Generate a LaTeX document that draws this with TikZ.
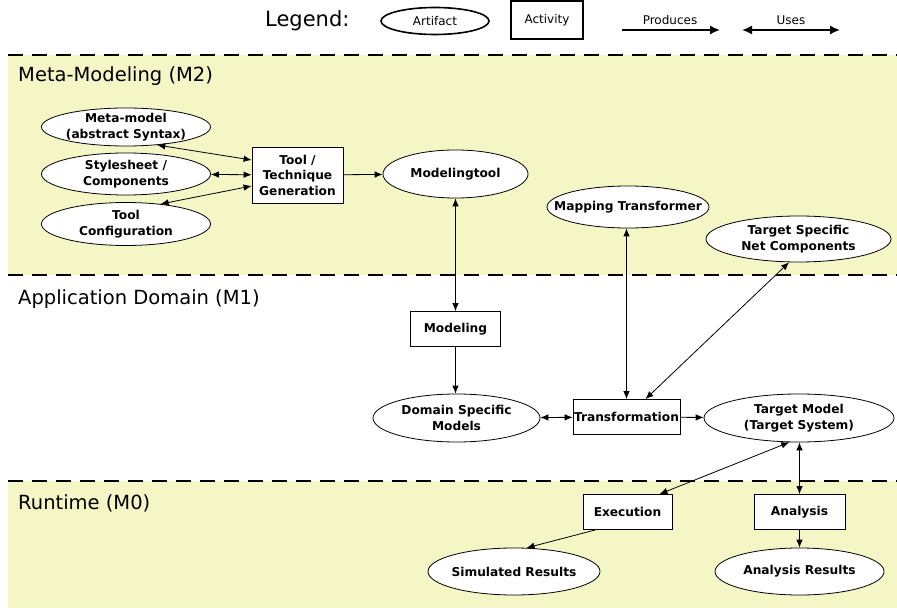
\documentclass[tikz,border=0pt]{standalone}
\usepackage{fontspec}
\setmainfont{DejaVu Sans}
\usetikzlibrary{shapes.geometric,arrows.meta}
\definecolor{bandyellow}{RGB}{245,246,198}

\begin{document}
\begin{tikzpicture}[x=1pt,y=-1pt,
  nodefont/.style={font=\bfseries\fontsize{12.2}{15.5}\selectfont},
  % negative inner sep: the ellipse size is set by the minimum sizes alone
  artifact/.style={ellipse,draw,fill=white,line width=0.8pt,inner xsep=-40pt,inner ysep=-10pt,align=center,nodefont},
  activity/.style={rectangle,draw,fill=white,line width=0.8pt,inner sep=0pt,align=center,nodefont},
  produces/.style={line width=0.8pt,-{Latex[length=8pt,width=6.5pt]}},
  uses/.style={line width=0.8pt,{Latex[length=8pt,width=6.5pt]}-{Latex[length=8pt,width=6.5pt]}},
  separator/.style={line width=2.6pt,dash pattern=on 15pt off 9pt},
  layerlabel/.style={anchor=west,inner sep=0pt,font=\fontsize{19.5}{22}\selectfont},
  legendtext/.style={inner sep=0pt,font=\fontsize{12}{14}\selectfont}]

\useasboundingbox (0,0) rectangle (897,612);
\fill[white] (0,0) rectangle (897,612);

% layer backgrounds
\fill[bandyellow] (8,55) rectangle (897,275);
\fill[bandyellow] (8,481) rectangle (897,608);
\draw[separator] (8,55) -- (897,55);
\draw[separator] (8,275) -- (897,275);
\draw[separator] (8,481) -- (897,481);

% layer labels
\node[layerlabel] (m2) at (18,76) {Meta-Modeling (M2)};
\node[layerlabel] (m1) at (18,299) {Application Domain (M1)};
\node[layerlabel] (m0) at (18,503) {Runtime (M0)};

% legend
\node[inner sep=0pt,anchor=west,font=\fontsize{21}{24}\selectfont] (legend) at (265,21) {Legend:};
\node[ellipse,draw,line width=1.6pt,minimum width=108pt,minimum height=27pt,inner sep=0pt,legendtext] (lgart) at (435,21) {Artifact};
\node[rectangle,draw,line width=1.3pt,minimum width=72pt,minimum height=38pt,inner sep=0pt,legendtext] (lgact) at (547,20) {Activity};
\coordinate (p1) at (622,30);
\coordinate (p2) at (720,30);
\draw[line width=1.6pt,-{Latex[length=10pt,width=9pt]}] (p1) -- (p2);
\node[legendtext] (lgprod) at (670,20) {Produces};
\coordinate (u1) at (742,30);
\coordinate (u2) at (840,30);
\draw[line width=1.6pt,{Latex[length=10pt,width=9pt]}-{Latex[length=10pt,width=9pt]}] (u1) -- (u2);
\node[legendtext] (lguses) at (791,20) {Uses};

% M2 nodes
\node[artifact,minimum width=169pt,minimum height=38pt] (meta) at (126,127) {Meta-model\\(abstract Syntax)};
\node[artifact,minimum width=169pt,minimum height=42pt] (style) at (126,174) {Stylesheet /\\Components};
\node[artifact,minimum width=169pt,minimum height=43pt] (tconf) at (126,224) {Tool\\Configuration};
\node[activity,minimum width=91pt,minimum height=56pt] (tgen) at (297.5,175) {Tool /\\Technique\\Generation};
\node[artifact,minimum width=145pt,minimum height=48pt] (mtool) at (455.5,174) {Modelingtool};
\node[artifact,minimum width=162pt,minimum height=42pt] (mapt) at (628,207) {Mapping Transformer};
\node[artifact,minimum width=185pt,minimum height=46pt] (tsnc) at (798.5,239) {Target Specific\\Net Components};

% M1 nodes
\node[activity,minimum width=90pt,minimum height=35pt] (model) at (455.5,329) {Modeling};
\node[artifact,minimum width=167pt,minimum height=48pt] (dsm) at (456.5,418) {Domain Specific\\Models};
\node[activity,minimum width=107pt,minimum height=35pt] (trans) at (626.5,417) {Transformation};
\node[artifact,minimum width=190pt,minimum height=48pt] (tmodel) at (799,418) {Target Model\\(Target System)};

% M0 nodes
\node[activity,minimum width=89pt,minimum height=35pt] (exec) at (627.5,512) {Execution};
\node[activity,minimum width=91pt,minimum height=35pt] (anal) at (799.5,512) {Analysis};
\node[artifact,minimum width=172pt,minimum height=47pt] (simres) at (514,571.5) {Simulated Results};
\node[artifact,minimum width=169pt,minimum height=47pt] (analres) at (799.5,571.5) {Analysis Results};

% connectors
\draw[uses] (meta.-30) -- (tgen.west |- 0,160);
\draw[uses] (style) -- (tgen);
\draw[uses] (tconf.30) -- (tgen.west |- 0,186);
\draw[produces] (tgen) -- (mtool);
\draw[uses] (mtool) -- (model);
\draw[produces] (model.south) -- (model.south |- dsm.north);
\draw[uses] (dsm) -- (trans);
\draw[uses] (mapt.south -| trans.north) -- (trans.north);
\draw[uses] (tsnc.-112) -- ([xshift=19pt]trans.north);
\draw[produces] (trans) -- (tmodel);
\draw[uses] (tmodel.-112) -- ([xshift=32pt]exec.north);
\draw[uses] (tmodel.south -| anal.north) -- (anal.north);
\draw[produces] ([xshift=-32pt]exec.south) -- (simres.62);
\draw[produces] (anal) -- (analres);
\end{tikzpicture}
\end{document}
